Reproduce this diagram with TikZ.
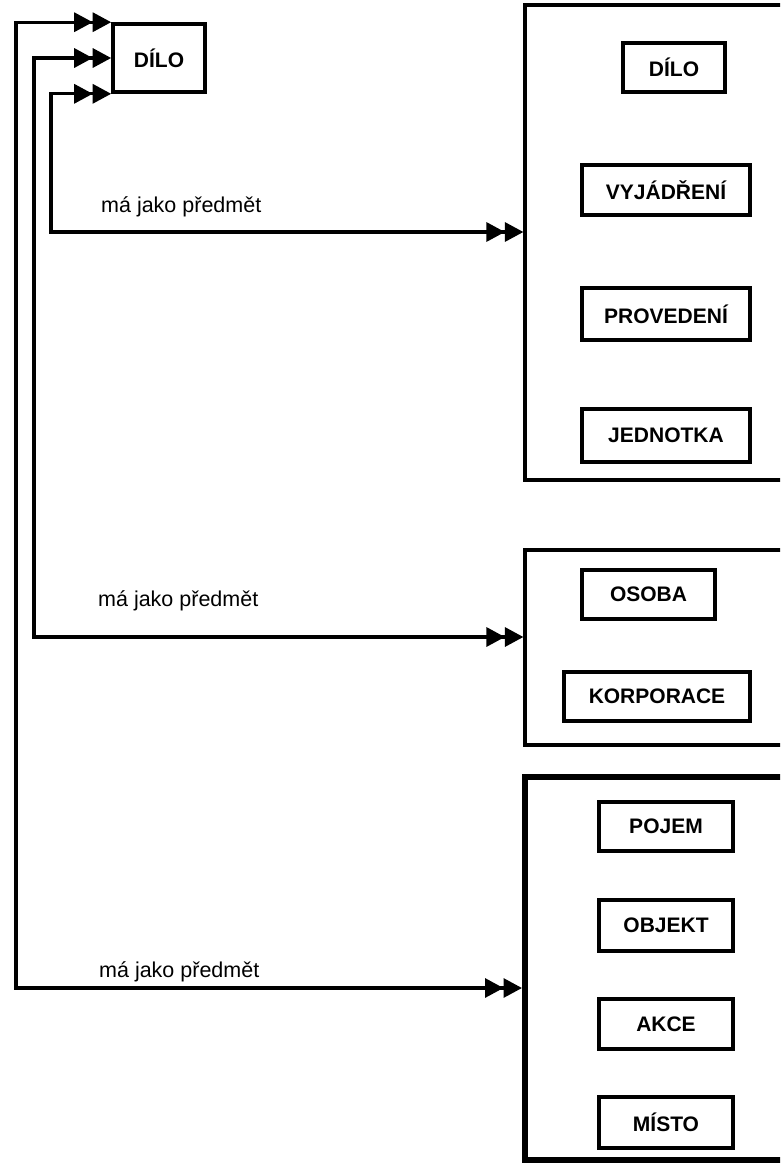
\documentclass[tikz,border=0pt]{standalone}
\usepackage{fontspec}
\setmainfont{Liberation Sans}
\usetikzlibrary{arrows.meta}
\begin{document}
\begin{tikzpicture}[x=1pt,y=-1pt,
  tri/.tip={Triangle[length=18.5pt,width=19pt]},
  conn/.style={line width=3.2pt,{tri[]tri[]}-{tri[]tri[]}},
  bigbox/.style={draw,rectangle,line width=3.2pt,inner sep=0pt},
  item/.style={draw,rectangle,line width=3.6pt,inner sep=0pt,font=\bfseries\fontsize{21}{25}\selectfont},
  lbl/.style={anchor=base west,inner sep=0pt,font=\fontsize{21.5}{25}\selectfont}]
\useasboundingbox (0,0) rectangle (780,1163);
\clip (0,0) rectangle (780,1163);
\fill[white] (0,0) rectangle (780,1163);

% source node
\node[item,minimum width=92pt,minimum height=68pt] (dilo) at (159,58) {DÍLO};

% big target boxes
\node[bigbox,minimum width=285pt,minimum height=475pt] (b1) at (667.5,242.5) {};
\node[bigbox,minimum width=285pt,minimum height=195pt] (b2) at (667.5,647.5) {};
\node[bigbox,line width=6pt,minimum width=285pt,minimum height=383pt] (b3) at (667.5,968.5) {};

% box 1 items
\node[item,minimum width=102pt,minimum height=49pt] (d2) at (674,67.5) {DÍLO};
\node[item,minimum width=168pt,minimum height=50pt] (vy) at (666,190) {VYJÁDŘENÍ};
\node[item,minimum width=168pt,minimum height=52pt] (pr) at (666,314) {PROVEDENÍ};
\node[item,minimum width=168pt,minimum height=53pt] (je) at (666,435.5) {JEDNOTKA};

% box 2 items
\node[item,minimum width=133pt,minimum height=49pt] (os) at (648.5,594.5) {OSOBA};
\node[item,minimum width=186pt,minimum height=49pt] (ko) at (657,696.5) {KORPORACE};

% box 3 items
\node[item,minimum width=134pt,minimum height=49pt] (po) at (666,826.5) {POJEM};
\node[item,minimum width=134pt,minimum height=51pt] (ob) at (666,925.5) {OBJEKT};
\node[item,minimum width=134pt,minimum height=50pt] (ak) at (666,1024) {AKCE};
\node[item,minimum width=134pt,minimum height=51pt] (mi) at (666,1122.5) {MÍSTO};

% connector corners
\coordinate (c1) at (51,232);
\coordinate (c2) at (34,637);
\coordinate (c3) at (16,988);

\draw[conn] (dilo.south west) -| (c1) -- (b1.west |- c1);
\draw[conn] (dilo.west) -| (c2) -- (b2.west |- c2);
\draw[conn] (dilo.north west) -| (c3) -- (b3.west |- c3);

% labels
\node[lbl] (l1) at (101,212) {má jako předmět};
\node[lbl] (l2) at (98,606) {má jako předmět};
\node[lbl] (l3) at (99,977) {má jako předmět};
\end{tikzpicture}
\end{document}
